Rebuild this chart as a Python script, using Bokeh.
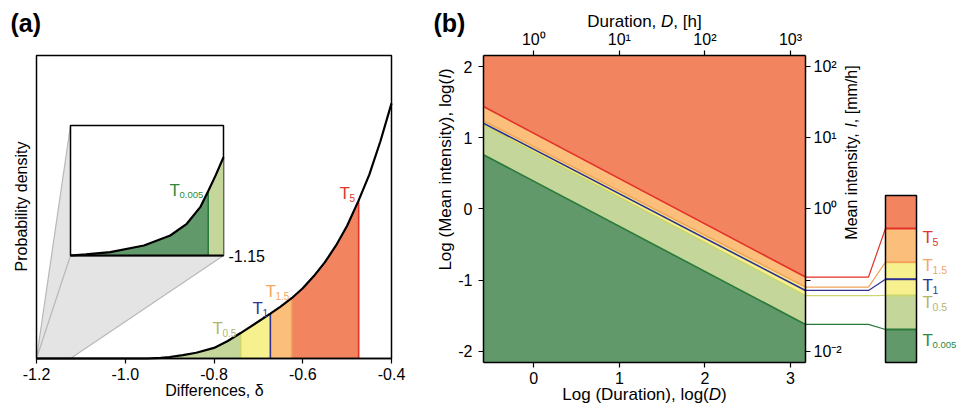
import numpy as np
from math import pi
from bokeh.plotting import figure
from bokeh.layouts import row
from bokeh.models import Range1d, LinearAxis, FixedTicker
from bokeh.core.properties import value
from bokeh.embed import file_html
from bokeh.resources import INLINE

FONT = "Liberation Sans"

# ---------------- panel (a) data ----------------
delta = [-1.20, -0.95, -0.92, -0.90, -0.87, -0.84, -0.80, -0.77, -0.74, -0.70, -0.673,
         -0.65, -0.625, -0.60, -0.575, -0.55, -0.525, -0.50, -0.474, -0.45, -0.425, -0.40]
density = [0.0, 0.0, 0.002, 0.005, 0.011, 0.019, 0.035, 0.057, 0.084, 0.122, 0.148,
           0.171, 0.199, 0.232, 0.272, 0.318, 0.373, 0.438, 0.522, 0.607, 0.717, 0.842]
a_thr_names = ["0.5", "1", "1.5", "5"]
a_thr_delta = [-0.740, -0.673, -0.625, -0.474]
inset_delta = [-1.200, -1.195, -1.187, -1.176, -1.1674, -1.1620, -1.1576, -1.1549, -1.1525, -1.150]
inset_density = [0.0, 0.008, 0.026, 0.077, 0.154, 0.244, 0.372, 0.500, 0.620, 0.756]
inset_thr_name = "0.005"
inset_thr_delta = -1.155
inset_limit_label = "-1.15"
a_ticks = [-1.2, -1.0, -0.8, -0.6, -0.4]
a_tick_labels = ["-1.2", "-1.0", "-0.8", "-0.6", "-0.4"]

# ---------------- panel (b) data ----------------
b_thr_names = ["5", "1.5", "1", "0.5", "0.005"]
log_d = [-0.588, 3.175]
log_i_t5 = [1.437, -0.958]
log_i_t1_5 = [1.238, -1.100]
log_i_t1 = [1.203, -1.146]
log_i_t0_5 = [1.172, -1.219]
log_i_t0_005 = [0.760, -1.624]
b_x_ticks = [0, 1, 2, 3]
b_top_labels = ["10\u2070", "10\u00b9", "10\u00b2", "10\u00b3"]
b_y_ticks = [-2, -1, 0, 1, 2]
b_left_labels = ["-2", "-1", "0", "1", "2"]
b_right_labels = ["10\u207b\u00b2", "", "10\u2070", "10\u00b9", "10\u00b2"]

# ---------------- colours ----------------
RED_F, ORANGE_F, YELLOW_F, LGREEN_F, DGREEN_F = "#F2845F", "#FBBF7B", "#F7F08E", "#C4D69A", "#62996A"
RED_L, ORANGE_L, BLUE_L, LG_L, DG_L = "#E2312A", "#F2A35C", "#2E3192", "#CBD66E", "#2A7A3B"
RED_T, ORANGE_T, BLUE_T, LG_T, DG_T = "#E0362C", "#F4A75F", "#2E3A8F", "#B3B56C", "#2B8A3E"
GREY_F, GREY_L = "#E4E4E4", "#B8B8B8"

# Arial / Liberation Sans advance widths (1/1000 em) for placing mixed-style text
W = {' ': 278, '(': 333, ')': 333, ',': 278, '[': 278, ']': 278, '/': 278, 'D': 722, 'I': 278,
     'L': 556, 'M': 833, 'P': 667, 'a': 556, 'b': 556, 'c': 500, 'd': 556, 'e': 556, 'f': 278,
     'g': 556, 'h': 556, 'i': 222, 'l': 222, 'm': 833, 'n': 556, 'o': 556, 'r': 333, 's': 500,
     't': 278, 'u': 556, 'y': 500}


def style_axis(ax):
    ax.axis_line_color = "black"
    ax.axis_line_width = 1.5
    ax.major_tick_line_color = "black"
    ax.major_tick_line_width = 1.2
    ax.major_tick_out = 5
    ax.major_tick_in = 0
    ax.minor_tick_line_color = None
    ax.major_label_text_font = FONT
    ax.major_label_text_font_size = "16px"
    ax.major_label_text_color = "black"


def rich(p, xc, yc, parts, size=16, vertical=False, rng=None):
    """Text made of (string, italic) pieces, centred at page pixel (xc, yc)."""
    rng = rng or {}
    widths = [sum(W.get(ch, 556) for ch in t) * size / 1000 for t, _ in parts]
    total = sum(widths)
    cum = 0.0
    for (t, it), w in zip(parts, widths):
        if vertical:
            x, y, ang = xc, yc + total / 2 - cum, pi / 2
        else:
            x, y, ang = xc - total / 2 + cum, yc, 0.0
        p.text(x=[x], y=[y], text=[t], angle=ang, text_font=value(FONT),
               text_font_size=f"{size}px", text_font_style="italic" if it else "normal",
               text_align="left", text_baseline="middle", text_color="black", **rng)
        cum += w


def t_label(p, x, y, sub, color, size=17, sub_size=10, **rng):
    common = dict(text_color=color, text_font=value(FONT), text_align="left",
                  text_baseline="alphabetic")
    p.text(x=[x], y=[y], text=["T"], text_font_size=f"{size}px", **common, **rng)
    p.text(x=[x], y=[y], text=[sub], text_font_size=f"{sub_size}px",
           x_offset=10, y_offset=4, **common, **rng)


def segment_xy(xd, yd, a, b):
    xs = [a] + [v for v in xd if a < v < b] + [b]
    ys = list(np.interp(xs, xd, yd))
    return xs, ys


def lin(v0, p0, v1, p1):
    return lambda p: v0 + (p - p0) * (v1 - v0) / (p1 - p0)


H = 405
# ======================= panel (a) =======================
WA = 425
ax_ = lin(-1.2, 36, -0.4, 391)     # page px -> delta
ay_ = lin(0.0, 358, 1.0, 55)       # page px -> density
pa = figure(width=WA, height=H, x_range=Range1d(ax_(0), ax_(WA)), y_range=Range1d(ay_(H), ay_(0)),
            output_backend="svg", toolbar_location=None,
            min_border_left=0, min_border_right=0, min_border_top=0, min_border_bottom=0)
pa.xgrid.visible = False
pa.ygrid.visible = False
pa.yaxis.visible = False
pa.outline_line_color = None
style_axis(pa.xaxis[0])
pa.xaxis.fixed_location = 0
pa.xaxis.bounds = (-1.2, -0.4)
pa.xaxis.ticker = FixedTicker(ticks=a_ticks)
pa.xaxis.major_label_overrides = {t: l for t, l in zip(a_ticks, a_tick_labels)}
pa.xaxis.major_label_standoff = 4
pa.extra_x_ranges = {"px": Range1d(0, WA)}
pa.extra_y_ranges = {"px": Range1d(H, 0)}
pxa = dict(x_range_name="px", y_range_name="px")

# inset geometry (main-axis coordinates) and the inset's own ranges
INS_L, INS_R, INS_B, INS_T = ax_(70), ax_(223), ay_(255), ay_(125)
IX0, IX1 = -1.2, -1.15
ix_ = lin(IX0, 70, IX1, 223)
iy_ = lin(0.0, 255, 1.0, 125)
pa.extra_x_ranges["ins"] = Range1d(ix_(0), ix_(WA))
pa.extra_y_ranges["ins"] = Range1d(iy_(H), iy_(0))
ins = dict(x_range_name="ins", y_range_name="ins")

# grey zoom wedge
pa.patch(x=[-1.2, INS_L, INS_L, INS_R, INS_L], y=[0, INS_T, INS_B, INS_B, 0],
         fill_color=GREY_F, line_color=None)
pa.multi_line(xs=[[-1.2, INS_L], [-1.2, INS_L], [INS_R, INS_L]],
              ys=[[0, INS_T], [0, INS_B], [INS_B, 0]], line_color=GREY_L, line_width=1.2)

# main filled regions
a_bounds = [inset_thr_delta] + a_thr_delta + [-0.4]
a_fill = [LGREEN_F, YELLOW_F, ORANGE_F, RED_F]
for (lo, hi), c in zip(zip(a_bounds[:-1], a_bounds[1:]), a_fill):
    xs, ys = segment_xy(delta, density, lo, hi)
    pa.varea(x=xs, y1=[0] * len(xs), y2=ys, fill_color=c)
a_line_cols = [LG_L, BLUE_L, ORANGE_L, RED_L]
for d, c in zip(a_thr_delta, a_line_cols):
    pa.segment(x0=[d], y0=[0], x1=[d], y1=[float(np.interp(d, delta, density))],
               line_color=c, line_width=1.6)
pa.quad(left=[-1.2], right=[-0.4], bottom=[0], top=[1], fill_color=None,
        line_color="black", line_width=1.5)
pa.line(delta, density, line_color="black", line_width=2.2)

a_lab_px = [(212, 328), (252, 308), (265, 291), (339, 193)]
a_lab_cols = [LG_T, BLUE_T, ORANGE_T, RED_T]
for (x, y), n, c in zip(a_lab_px, a_thr_names, a_lab_cols):
    t_label(pa, x, y, n, c, **pxa)

# inset
pa.quad(left=[IX0], right=[IX1], bottom=[0], top=[1], fill_color="white",
        line_color="black", line_width=1.5, **ins)
xs, ys = segment_xy(inset_delta, inset_density, IX0, inset_thr_delta)
pa.varea(x=xs, y1=[0] * len(xs), y2=ys, fill_color=DGREEN_F, **ins)
xs, ys = segment_xy(inset_delta, inset_density, inset_thr_delta, IX1)
pa.varea(x=xs, y1=[0] * len(xs), y2=ys, fill_color=LGREEN_F, **ins)
pa.segment(x0=[inset_thr_delta], y0=[0], x1=[inset_thr_delta],
           y1=[float(np.interp(inset_thr_delta, inset_delta, inset_density))],
           line_color=DG_L, line_width=1.6, **ins)
pa.line(inset_delta, inset_density, line_color="black", line_width=2.2, **ins)
pa.segment(x0=[IX0], y0=[0], x1=[IX1], y1=[0], line_color="black", line_width=2.2, **ins)
t_label(pa, 169, 190, inset_thr_name, DG_T, sub_size=9.5, **pxa)
pa.text(x=[IX1], y=[0], text=[inset_limit_label], x_offset=5, text_font=value(FONT),
        text_font_size="16px", text_baseline="middle", text_align="left",
        text_color="black", **ins)

pa.text(x=[10], y=[8], text=["(a)"], text_font=value(FONT), text_font_size="25px",
        text_font_style="bold", text_align="left", text_baseline="top", text_color="black", **pxa)
rich(pa, 21, 206, [("Probability density", False)], vertical=True, rng=pxa)
rich(pa, 214, 390, [("Differences, \u03b4", False)], rng=pxa)

# ======================= panel (b) =======================
WB = 958 - WA
bx_ = lin(0.0, 533.3 - WA, 3.0, 790 - WA)   # canvas px -> log D
by_ = lin(0.0, 208.35, 2.0, 66)             # page px -> log I
BOX_L, BOX_R, BOX_B, BOX_T = bx_(483 - WA), bx_(805 - WA), by_(362), by_(55)
pb = figure(width=WB, height=H, x_range=Range1d(bx_(0), bx_(WB)), y_range=Range1d(by_(H), by_(0)),
            output_backend="svg", toolbar_location=None,
            min_border_left=0, min_border_right=0, min_border_top=0, min_border_bottom=0)
pb.xgrid.visible = False
pb.ygrid.visible = False
pb.outline_line_color = None
pb.extra_x_ranges = {"px": Range1d(WA, 958)}
pb.extra_y_ranges = {"px": Range1d(H, 0)}
pxb = dict(x_range_name="px", y_range_name="px")

style_axis(pb.xaxis[0])
pb.xaxis.ticker = FixedTicker(ticks=b_x_ticks)
pb.xaxis.fixed_location = BOX_B
pb.xaxis.bounds = (BOX_L, BOX_R)
pb.xaxis.major_label_standoff = 4
style_axis(pb.yaxis[0])
pb.yaxis.ticker = FixedTicker(ticks=b_y_ticks)
pb.yaxis.major_label_overrides = {t: l for t, l in zip(b_y_ticks, b_left_labels)}
pb.yaxis.fixed_location = BOX_L
pb.yaxis.bounds = (BOX_B, BOX_T)
pb.yaxis.major_label_standoff = 6

top_ax = LinearAxis(ticker=FixedTicker(ticks=b_x_ticks), bounds=(BOX_L, BOX_R), fixed_location=BOX_T,
                    major_label_overrides={t: l for t, l in zip(b_x_ticks, b_top_labels)})
style_axis(top_ax)
top_ax.major_label_standoff = 3
pb.add_layout(top_ax, "above")

right_ax = LinearAxis(ticker=FixedTicker(ticks=b_y_ticks), bounds=(BOX_B, BOX_T), fixed_location=BOX_R,
                      major_label_overrides={t: l for t, l in zip(b_y_ticks, b_right_labels)})
style_axis(right_ax)
right_ax.major_label_standoff = 3
pb.add_layout(right_ax, "right")

series = [log_i_t5, log_i_t1_5, log_i_t1, log_i_t0_5, log_i_t0_005]
uppers = [[BOX_T, BOX_T]] + series
lowers = series + [[BOX_B, BOX_B]]
band_cols = [RED_F, ORANGE_F, YELLOW_F, YELLOW_F, LGREEN_F, DGREEN_F]
for up, lo, c in zip(uppers, lowers, band_cols):
    pb.varea(x=log_d, y1=lo, y2=up, fill_color=c)

b_line_cols = [RED_L, ORANGE_L, BLUE_L, LG_L, DG_L]
b_text_cols = [RED_T, ORANGE_T, BLUE_T, LG_T, DG_T]
for s, c in list(zip(series, b_line_cols))[::-1]:
    pb.line(log_d, s, line_color=c, line_width=1.6)

# legend bar with connectors (layout in page px)
ELBOW_X, BAR_L, BAR_R = bx_(868 - WA), bx_(885 - WA), bx_(916 - WA)
leg_top = by_(195)
leg_levels = [by_(v) for v in (228, 261.7, 278.7, 295, 329)]
leg_edges = [leg_top] + leg_levels + [BOX_B]
pb.quad(left=[BAR_L] * 6, right=[BAR_R] * 6, top=leg_edges[:-1], bottom=leg_edges[1:],
        fill_color=band_cols, line_color=None)
for s, lv, c in zip(series, leg_levels, b_line_cols):
    pb.line([log_d[-1], ELBOW_X, BAR_L], [s[-1], s[-1], lv], line_color=c, line_width=1.2)
    pb.segment(x0=[BAR_L], y0=[lv], x1=[BAR_R], y1=[lv], line_color=c, line_width=2)
pb.quad(left=[BAR_L], right=[BAR_R], top=[leg_top], bottom=[BOX_B], fill_color=None,
        line_color="black", line_width=1.5)
for py, n, c in zip((237, 265, 285, 302, 340), b_thr_names, b_text_cols):
    t_label(pb, 922, py, n, c, sub_size=(9.5 if len(n) > 3 else 10.5), **pxb)

pb.text(x=[433], y=[8], text=["(b)"], text_font=value(FONT), text_font_size="25px",
        text_font_style="bold", text_align="left", text_baseline="top", text_color="black", **pxb)
rich(pb, 644, 21, [("Duration, ", False), ("D", True), (", [h]", False)], size=17, rng=pxb)
rich(pb, 644, 394, [("Log (Duration), log(", False), ("D", True), (")", False)], size=17, rng=pxb)
rich(pb, 445, 169, [("Log (Mean intensity), log(", False), ("I", True), (")", False)],
     size=17, vertical=True, rng=pxb)
rich(pb, 851, 152, [("Mean intensity, ", False), ("I", True), (", [mm/h]", False)],
     size=16, vertical=True, rng=pxb)

layout = row(pa, pb)
open("out.html", "w").write(file_html(layout, INLINE))
